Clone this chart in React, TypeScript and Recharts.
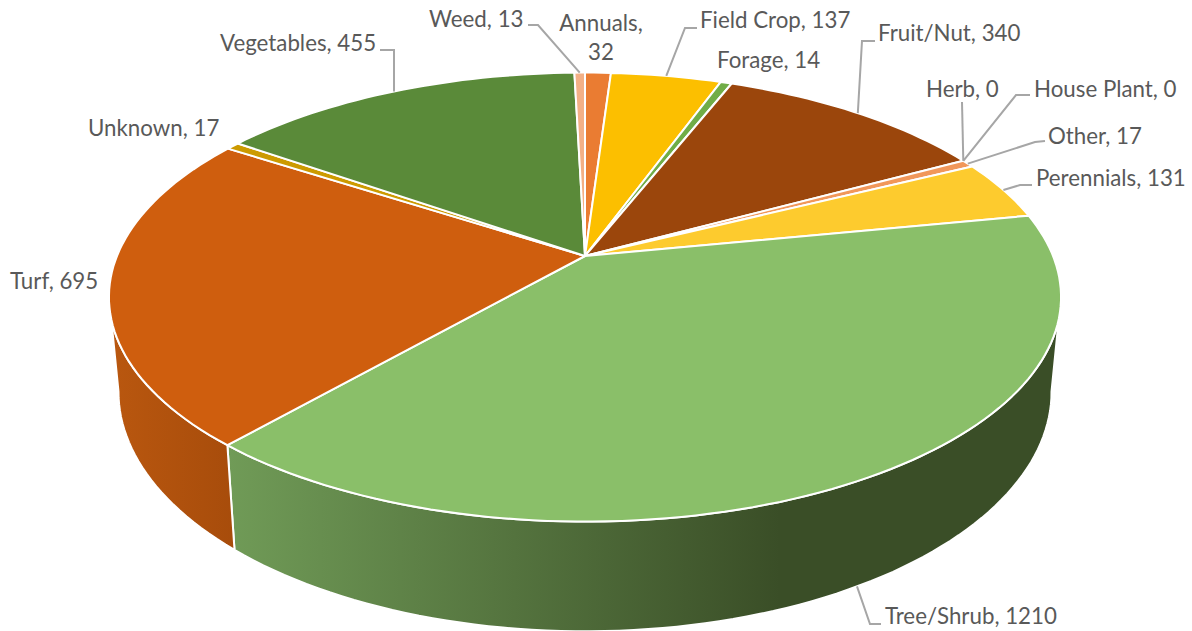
import { PieChart, Pie } from 'recharts';

const CATEGORIES = [
  'Annuals', 'Field Crop', 'Forage', 'Fruit/Nut', 'Herb', 'House Plant', 'Other',
  'Perennials', 'Tree/Shrub', 'Turf', 'Unknown', 'Vegetables', 'Weed',
];
const VALUES = [32, 137, 14, 340, 0, 0, 17, 131, 1210, 695, 17, 455, 13];

const TOP_COLORS = [
  '#ea7c32', '#fcbf00', '#70ad47', '#9b460c', '#997300', '#f4b183', '#f1975a',
  '#fdcb2e', '#8abf69', '#cf5e0e', '#cc9a00', '#5a8a39', '#f3b086',
];
const WALL_COLORS = [
  '#b85f24', '#c49400', '#56853a', '#7a380b', '#775900', '#bd8965', '#bb7546',
  '#c49e27', 'url(#wallTree)', 'url(#wallTurf)', '#9e7700', '#466b2c', '#bc8968',
];

const chartData = CATEGORIES.map((name, i) => ({ name, value: VALUES[i] }));

// label placement: text start + baseline, then the elbow of the leader line
const LABEL_SPOTS: Record<string, { x: number; y: number; line?: number[][]; onBase?: boolean }> = {
  Annuals: { x: 601, y: 31 },
  'Field Crop': { x: 700, y: 28, line: [[697, 28], [685, 28]] },
  Forage: { x: 717, y: 68 },
  'Fruit/Nut': { x: 878, y: 41, line: [[875, 41], [862, 41]] },
  Herb: { x: 926, y: 97, line: [[962, 102]] },
  'House Plant': { x: 1034, y: 97, line: [[1030, 95], [1016, 95]] },
  Other: { x: 1048, y: 144, line: [[1045, 141], [1035, 142]] },
  Perennials: { x: 1036, y: 186, line: [[1032, 185], [1020, 185]] },
  'Tree/Shrub': { x: 885, y: 624, line: [[881, 624], [870, 624]], onBase: true },
  Turf: { x: 10, y: 289 },
  Unknown: { x: 88, y: 136 },
  Vegetables: { x: 220, y: 51, line: [[380, 50], [394, 50]] },
  Weed: { x: 429, y: 27, line: [[528, 25], [538, 25]] },
};

const CX = 585;
const CY = 256;
const RADIUS_X = 468;
const SQUASH = 0.4636; // vertical radius / horizontal radius
const TILT = -0.183; // perspective: the far rim shrinks, the near rim grows
const BASE_DROP = 92;
const BASE_SCALE_X = 0.98;
const BASE_SCALE_Y = 1.067;
const RIGHT_EDGE = 100.5; // clockwise degrees from the top where the rim turns
const LEFT_EDGE = 259.5;

// rim point for a recharts angle (90 = top, going clockwise as it falls)
function rimPoint(angle: number, cx: number, cy: number, r: number, base = false) {
  const rad = (angle * Math.PI) / 180;
  const ux = Math.cos(rad);
  const uy = -Math.sin(rad);
  const w = 1 + TILT * uy;
  return {
    x: cx + ((base ? BASE_SCALE_X : 1) * r * ux) / w,
    y: cy + ((base ? BASE_SCALE_Y : 1) * r * SQUASH * uy) / w + (base ? BASE_DROP : 0),
  };
}

function arcPoints(from: number, to: number, cx: number, cy: number, r: number, base = false) {
  const steps = Math.max(2, Math.ceil(Math.abs(to - from) / 1.5));
  const pts = [];
  for (let i = 0; i <= steps; i++) {
    pts.push(rimPoint(from + ((to - from) * i) / steps, cx, cy, r, base));
  }
  return pts;
}

const toPath = (pts: { x: number; y: number }[]) =>
  pts.map((p, i) => `${i ? 'L' : 'M'}${p.x.toFixed(1)},${p.y.toFixed(1)}`).join(' ');

const TopSlice = (props: any) => {
  const { cx, cy, outerRadius, startAngle, endAngle, name } = props;
  if (startAngle === endAngle) return null;
  const d = `M${cx},${cy} ${toPath(arcPoints(startAngle, endAngle, cx, cy, outerRadius)).replace('M', 'L')} Z`;
  return <path d={d} fill={TOP_COLORS[CATEGORIES.indexOf(name)]} stroke="#ffffff" strokeWidth={2} strokeLinejoin="round" />;
};

const WallSlice = (props: any) => {
  const { cx, cy, outerRadius, startAngle, endAngle, name } = props;
  // only the part of the rim that faces the viewer gets a wall
  const from = Math.min(startAngle, 90 - RIGHT_EDGE);
  const to = Math.max(endAngle, 90 - LEFT_EDGE);
  if (from <= to) return null;
  const top = arcPoints(from, to, cx, cy, outerRadius);
  const bottom = arcPoints(to, from, cx, cy, outerRadius, true);
  return (
    <path
      d={`${toPath(top)} ${toPath(bottom).replace('M', 'L')} Z`}
      fill={WALL_COLORS[CATEGORIES.indexOf(name)]}
      stroke="#ffffff"
      strokeWidth={2}
      strokeLinejoin="round"
    />
  );
};

const SliceLabel = (props: any) => {
  const { cx, cy, outerRadius, midAngle, name, value } = props;
  const spot = LABEL_SPOTS[name];
  if (!spot) return null;
  const textStyle = { fontFamily: 'Lato', fontSize: 22.3, fill: '#595959' };

  let leader = null;
  if (spot.line) {
    const end = rimPoint(midAngle, cx, cy, outerRadius, spot.onBase);
    const pts = [...spot.line, [end.x, end.y]].map((p) => p.join(',')).join(' ');
    leader = <polyline points={pts} fill="none" stroke="#a6a6a6" strokeWidth={2} />;
  }

  return (
    <g>
      {leader}
      {name === 'Annuals' ? (
        <text x={spot.x} y={spot.y} textAnchor="middle" style={textStyle}>
          <tspan x={spot.x}>{name},</tspan>
          <tspan x={spot.x} dy={29}>{value}</tspan>
        </text>
      ) : (
        <text x={spot.x} y={spot.y} style={textStyle}>{`${name}, ${value}`}</text>
      )}
    </g>
  );
};

export default function App() {
  return (
    <div style={{ position: 'absolute', left: 0, top: 0, width: 1192, height: 631, background: '#ffffff', overflow: 'hidden' }}>
      <PieChart width={1192} height={631} margin={{ top: 0, right: 0, bottom: 0, left: 0 }}>
        <defs>
          <linearGradient id="wallTree" gradientUnits="userSpaceOnUse" x1="228" y1="0" x2="780" y2="0">
            <stop offset="0" stopColor="#709b57" />
            <stop offset="1" stopColor="#3a4e27" />
          </linearGradient>
          <linearGradient id="wallTurf" gradientUnits="userSpaceOnUse" x1="112" y1="0" x2="237" y2="0">
            <stop offset="0" stopColor="#b9570f" />
            <stop offset="1" stopColor="#a74c0b" />
          </linearGradient>
        </defs>
        <Pie
          data={chartData}
          dataKey="value"
          nameKey="name"
          cx={CX}
          cy={CY}
          innerRadius={0}
          outerRadius={RADIUS_X}
          startAngle={90}
          endAngle={-270}
          shape={WallSlice}
          isAnimationActive={false}
          label={false}
          labelLine={false}
        />
        <Pie
          data={chartData}
          dataKey="value"
          nameKey="name"
          cx={CX}
          cy={CY}
          innerRadius={0}
          outerRadius={RADIUS_X}
          startAngle={90}
          endAngle={-270}
          shape={TopSlice}
          isAnimationActive={false}
          label={SliceLabel}
          labelLine={false}
        />
      </PieChart>
    </div>
  );
}
